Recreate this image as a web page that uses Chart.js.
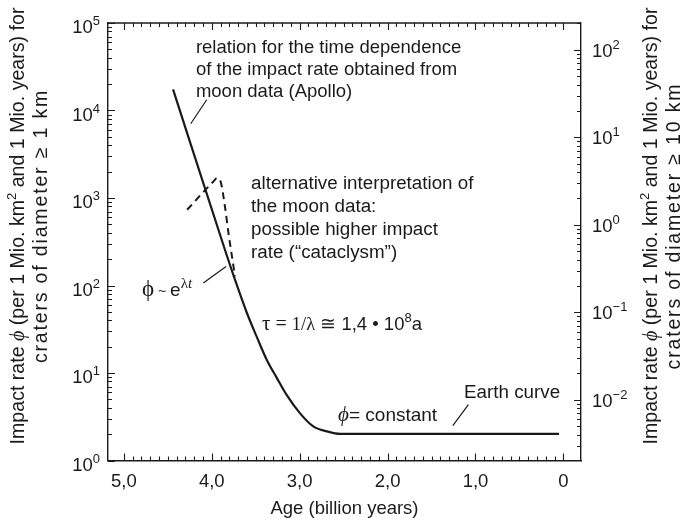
<!DOCTYPE html>
<html><head><meta charset="utf-8">
<script src="https://cdn.jsdelivr.net/npm/chart.js@4.4.1/dist/chart.umd.min.js"></script>
<style>html,body{margin:0;padding:0;background:#fff;}#wrap{width:688px;height:526px;}</style>
</head><body><div id="wrap"><canvas id="c" width="688" height="526"></canvas></div>
<script>
// ---- data ----
const SOLID_AGE  = [4.44, 3.85, 3.735, 3.60, 3.49, 3.375, 3.26, 3.15, 3.0, 2.845, 2.69, 2.54, 0.05];
const SOLID_RATE = [17400, 256, 116, 48.5, 26.2, 14.2, 8.8, 5.65, 3.5, 2.45, 2.15, 2.01, 2.01];
const DASHED_AGE  = [4.28, 3.98, 3.94, 3.90, 3.85, 3.81, 3.77, 3.735];
const DASHED_RATE = [735, 1550, 1690, 1550, 800, 400, 215, 127];
const X_TICKS = [5, 4, 3, 2, 1, 0];
const X_TICK_LABELS = ['5,0', '4,0', '3,0', '2,0', '1,0', '0'];
const Y_LEFT_TICKS = [1, 10, 100, 1000, 10000, 100000];
const Y_LEFT_EXP = ['0', '1', '2', '3', '4', '5'];
const Y_RIGHT_TICKS = [0.01, 0.1, 1, 10, 100];
const Y_RIGHT_EXP = ['\u22122', '\u22121', '0', '1', '2'];
const X_RANGE = [-0.2, 5.18];
const Y_LEFT_RANGE = [1, 1e5];
const RIGHT_FACTOR = 494; // left-axis value / right-axis value

const SANS = '"Liberation Sans", Arial, Helvetica, sans-serif';
const SERIF = '"Liberation Serif", "Times New Roman", serif';
const INK = '#1a1a1a';
const F = (sz, fam, st) => (st ? st + ' ' : '') + sz + 'px ' + fam;

function drawRich(ctx, x, y, segs, align) {
  let w = 0;
  segs.forEach(s => { ctx.font = s.f; w += ctx.measureText(s.t).width; });
  let cx = align === 'center' ? x - w / 2 : (align === 'right' ? x - w : x);
  segs.forEach(s => { ctx.font = s.f; ctx.fillText(s.t, cx, y + (s.dy || 0)); cx += ctx.measureText(s.t).width; });
}

// annotation texts anchored in data coordinates (age, left-axis rate)
const NORMAL = F(18.5, SANS);
const ANNOTATIONS = [
  { at: [4.18, 46000], lh: 22, lines: [
      [{ t: 'relation for the time dependence', f: NORMAL }],
      [{ t: 'of the impact rate obtained from', f: NORMAL }],
      [{ t: 'moon data (Apollo)', f: NORMAL }]] },
  { at: [3.553, 1277], lh: 23, lines: [
      [{ t: 'alternative interpretation of', f: F(18.8, SANS) }],
      [{ t: 'the moon data:', f: F(18.8, SANS) }],
      [{ t: 'possible higher impact', f: F(18.8, SANS) }],
      [{ t: 'rate (\u201Ccataclysm\u201D)', f: F(18.8, SANS) }]] },
  { at: [4.793, 76.4], lh: 0, lines: [[
      { t: '\u03D5', f: F(23, SERIF) }, { t: ' ~ ', f: F(14, SANS) }, { t: 'e', f: F(19, SANS) },
      { t: '\u03BB', f: F(15, SERIF), dy: -8 }, { t: 't', f: F(15, SERIF, 'italic'), dy: -8 }]] },
  { at: [3.428, 31.3], lh: 0, lines: [[
      { t: '\u03C4', f: F(21, SERIF) }, { t: ' = ', f: F(20, SERIF) }, { t: '1/\u03BB', f: F(18.5, SERIF) },
      { t: ' \u2245 1,4 \u2022 10', f: NORMAL }, { t: '8', f: F(13, SANS), dy: -8 }, { t: 'a', f: NORMAL }]] },
  { at: [2.563, 2.85], lh: 0, lines: [[
      { t: '\u03D5', f: F(21, SERIF, 'italic') }, { t: '= constant', f: F(19, SANS) }]] },
  { at: [1.13, 5.22], lh: 0, lines: [[{ t: 'Earth curve', f: F(18.8, SANS) }]] }
];
// leader lines in data coordinates
const LEADERS = [
  [[4.057, 13280], [4.239, 7060]],
  [[4.096, 107], [3.837, 165]],
  [[1.081, 4.35], [1.258, 2.50]]
];

const framePlugin = {
  id: 'frame',
  afterDatasetsDraw(chart) {
    const { ctx, chartArea: a, scales } = chart;
    const x = scales.x, y = scales.y, y2 = scales.y2;
    ctx.save();
    ctx.strokeStyle = INK; ctx.lineWidth = 1.4;
    ctx.beginPath(); ctx.moveTo(a.left, a.top); ctx.lineTo(a.right, a.top); ctx.stroke();
    ctx.lineWidth = 1.1;
    const MAJ = 7, MIN = 4;
    ctx.beginPath();
    for (let i = 0; i <= 50; i++) {
      const v = i / 10, px = Math.round(x.getPixelForValue(v)) + 0.5, len = i % 10 === 0 ? MAJ : MIN;
      ctx.moveTo(px, a.bottom); ctx.lineTo(px, a.bottom - len);
      ctx.moveTo(px, a.top); ctx.lineTo(px, a.top + len);
    }
    const logTicks = (sc, xEdge, dir) => {
      for (let d = -4; d <= 5; d++) for (let k = 1; k <= 9; k++) {
        const v = k * Math.pow(10, d);
        if (v < sc.min * 0.999 || v > sc.max * 1.001) continue;
        const py = Math.round(sc.getPixelForValue(v)) + 0.5;
        const len = k === 1 ? MAJ : MIN;
        ctx.moveTo(xEdge, py); ctx.lineTo(xEdge + dir * len, py);
      }
    };
    logTicks(y, a.left, 1);
    logTicks(y2, a.right, -1);
    ctx.stroke();
    ctx.restore();
  },
  afterDraw(chart) {
    const { ctx, chartArea: a, scales } = chart;
    const x = scales.x, y = scales.y, y2 = scales.y2;
    ctx.save();
    ctx.fillStyle = INK; ctx.textBaseline = 'alphabetic';
    // y tick labels with superscripts
    Y_LEFT_TICKS.forEach((v, i) => {
      const py = y.getPixelForValue(v);
      drawRich(ctx, a.left - 8, py + 10, [{ t: '10', f: F(18.5, SANS) }, { t: Y_LEFT_EXP[i], f: F(13, SANS), dy: -8 }], 'right');
    });
    Y_RIGHT_TICKS.forEach((v, i) => {
      const py = y2.getPixelForValue(v);
      drawRich(ctx, a.right + 11, py + 7, [{ t: '10', f: F(18.5, SANS) }, { t: Y_RIGHT_EXP[i], f: F(13, SANS), dy: -8 }], 'left');
    });
    // rotated axis titles
    const T = F(19.6, SANS);
    const title = (cx, cy, line1, line2text) => {
      ctx.save(); ctx.translate(cx, cy); ctx.rotate(-Math.PI / 2);
      drawRich(ctx, 0, 0, line1, 'center');
      ctx.font = T; ctx.textAlign = 'center';
      if ('letterSpacing' in ctx) ctx.letterSpacing = '1.8px';
      ctx.fillText(line2text, 0, 23);
      if ('letterSpacing' in ctx) ctx.letterSpacing = '0px';
      ctx.textAlign = 'left';
      ctx.restore();
    };
    const l1 = [{ t: 'Impact rate ', f: T }, { t: '\u03D5', f: F(20, SERIF, 'italic') },
      { t: ' (per 1 Mio. km', f: T }, { t: '2', f: F(13, SANS), dy: -8 }, { t: ' and 1 Mio. years) for', f: T }];
    title(24, 226, l1, 'craters of diameter \u2265 1 km');
    title(657, 226, l1, 'craters of diameter \u2265 10 km');
    // annotations
    ANNOTATIONS.forEach(an => {
      const px = x.getPixelForValue(an.at[0]), py = y.getPixelForValue(an.at[1]);
      an.lines.forEach((ln, j) => drawRich(ctx, px, py + j * an.lh, ln, 'left'));
    });
    ctx.strokeStyle = INK; ctx.lineWidth = 1.2;
    ctx.beginPath();
    LEADERS.forEach(([p, q]) => {
      ctx.moveTo(x.getPixelForValue(p[0]), y.getPixelForValue(p[1]));
      ctx.lineTo(x.getPixelForValue(q[0]), y.getPixelForValue(q[1]));
    });
    ctx.stroke();
    ctx.restore();
  }
};

const toPts = (xs, ys) => xs.map((v, i) => ({ x: v, y: ys[i] }));

new Chart(document.getElementById('c'), {
  type: 'scatter',
  data: {
    datasets: [
      { label: 'Impact rate (moon data / Earth curve)', data: toPts(SOLID_AGE, SOLID_RATE), showLine: true,
        borderColor: INK, borderWidth: 2.2, pointRadius: 0, cubicInterpolationMode: 'monotone', yAxisID: 'y' },
      { label: 'Cataclysm interpretation', data: toPts(DASHED_AGE, DASHED_RATE), showLine: true,
        borderColor: INK, borderWidth: 2, borderDash: [7, 5], pointRadius: 0, cubicInterpolationMode: 'monotone', yAxisID: 'y' }
    ]
  },
  options: {
    responsive: false, animation: false, devicePixelRatio: 1,
    layout: { padding: { top: 23, left: 0, right: 0, bottom: 0 } },
    plugins: { legend: { display: false }, tooltip: { enabled: false } },
    scales: {
      x: {
        type: 'linear', position: 'bottom', min: X_RANGE[0], max: X_RANGE[1], reverse: true, bounds: 'data',
        grid: { display: false, drawTicks: false },
        border: { display: true, color: INK, width: 1.4 },
        afterBuildTicks: s => { s.ticks = X_TICKS.map(v => ({ value: v })); },
        ticks: { autoSkip: false, maxRotation: 0, padding: 10, color: INK, font: { family: SANS, size: 18.5 },
          callback: v => { const i = X_TICKS.indexOf(v); return i >= 0 ? X_TICK_LABELS[i] : ''; } },
        title: { display: true, text: 'Age (billion years)', color: INK, font: { family: SANS, size: 18.5 }, padding: { top: 0, bottom: 6 } },
        afterFit: s => { s.height = 65.5; }
      },
      y: {
        type: 'logarithmic', position: 'left', min: Y_LEFT_RANGE[0], max: Y_LEFT_RANGE[1], bounds: 'data',
        grid: { display: false, drawTicks: false }, ticks: { display: false },
        border: { display: true, color: INK, width: 1.4 },
        afterFit: s => { s.width = 108; }
      },
      y2: {
        type: 'logarithmic', position: 'right', min: Y_LEFT_RANGE[0] / RIGHT_FACTOR, max: Y_LEFT_RANGE[1] / RIGHT_FACTOR, bounds: 'data',
        grid: { display: false, drawTicks: false }, ticks: { display: false },
        border: { display: true, color: INK, width: 1.4 },
        afterFit: s => { s.width = 107; }
      }
    }
  },
  plugins: [framePlugin]
});
</script></body></html>
